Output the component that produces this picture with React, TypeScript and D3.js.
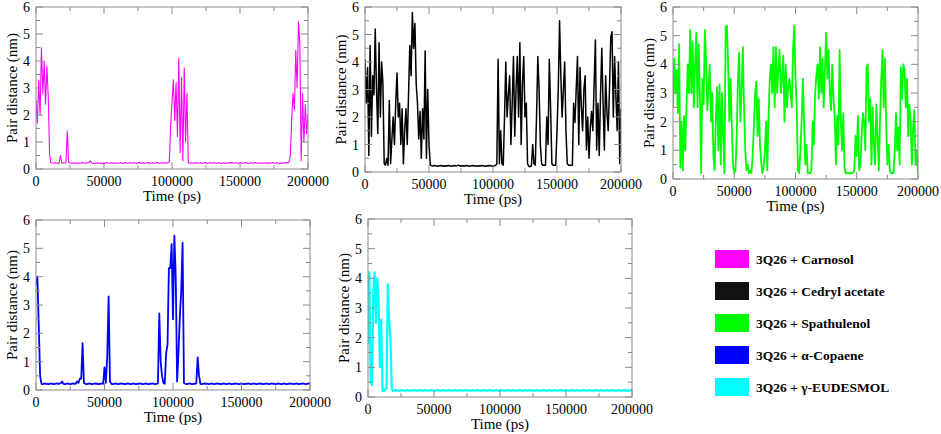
import * as d3 from 'd3'

// sampling interval of every trajectory below (ps)
const TIME_STEP_PS = 1000
const timeDomain = [0, 200000]
const distDomain = [0, 6]
const xTickValues = [0, 50000, 100000, 150000, 200000]
const xMinorValues = [25000, 75000, 125000, 175000]
const yTickValues = [0, 1, 2, 3, 4, 5, 6]
const yMinorValues = [0.5, 1.5, 2.5, 3.5, 4.5, 5.5]

// pair distance (nm), one value per 1000 ps, 0..200000 ps
const carnosol = [
  2.5, 1.7, 3.3, 2.0, 4.5, 2.8, 4.0, 2.4, 3.8, 2.7,
  0.5, 0.23, 0.22, 0.21, 0.23, 0.22, 0.2, 0.22, 0.5, 0.22,
  0.23, 0.22, 0.24, 1.4, 0.25, 0.22, 0.21, 0.23, 0.22, 0.2,
  0.22, 0.23, 0.21, 0.22, 0.24, 0.22, 0.21, 0.23, 0.22, 0.24,
  0.3, 0.22, 0.21, 0.2, 0.22, 0.23, 0.21, 0.22, 0.2, 0.21,
  0.19, 0.22, 0.24, 0.22, 0.21, 0.23, 0.22, 0.2, 0.22, 0.23,
  0.21, 0.22, 0.24, 0.22, 0.2, 0.22, 0.23, 0.21, 0.22, 0.24,
  0.22, 0.21, 0.23, 0.22, 0.2, 0.22, 0.25, 0.21, 0.22, 0.23,
  0.21, 0.22, 0.24, 0.22, 0.2, 0.22, 0.23, 0.21, 0.22, 0.25,
  0.22, 0.21, 0.23, 0.22, 0.24, 0.22, 0.21, 0.23, 0.25, 1.6,
  2.5, 3.3, 1.8, 3.2, 1.2, 4.1, 0.6, 3.4, 0.3, 3.75,
  1.0, 2.8, 0.22, 0.21, 0.23, 0.22, 0.2, 0.22, 0.24, 0.21,
  0.22, 0.23, 0.21, 0.22, 0.24, 0.22, 0.2, 0.22, 0.23, 0.21,
  0.22, 0.24, 0.22, 0.21, 0.23, 0.22, 0.2, 0.22, 0.23, 0.21,
  0.22, 0.21, 0.23, 0.22, 0.24, 0.22, 0.21, 0.23, 0.22, 0.2,
  0.22, 0.23, 0.21, 0.22, 0.24, 0.22, 0.2, 0.22, 0.23, 0.21,
  0.22, 0.24, 0.22, 0.21, 0.23, 0.22, 0.2, 0.22, 0.23, 0.21,
  0.22, 0.21, 0.23, 0.22, 0.24, 0.22, 0.21, 0.23, 0.22, 0.2,
  0.22, 0.21, 0.23, 0.22, 0.24, 0.22, 0.25, 0.5, 1.8, 2.8,
  2.2, 4.4, 3.0, 5.45, 4.6, 0.3, 2.8, 1.0, 2.4, 1.3,
  2.0,
]

const cedrylAcetate = [
  4.1, 2.5, 3.8, 0.6, 4.6, 1.3, 3.5, 2.8, 5.2, 3.0,
  1.4, 4.7, 2.0, 4.0, 3.2, 0.3, 0.25, 0.5, 0.25, 2.6,
  0.3, 1.2, 2.0, 1.0, 2.5, 3.6, 2.0, 2.5, 1.0, 2.3,
  0.3, 1.5, 2.3, 1.0, 2.8, 4.6, 3.5, 5.8, 4.5, 5.4,
  3.2, 2.5, 1.2, 2.2, 0.5, 2.3, 1.2, 4.4, 0.5, 3.0,
  1.0, 0.25, 0.23, 0.22, 0.24, 0.23, 0.22, 0.21, 0.23, 0.24,
  0.22, 0.23, 0.21, 0.23, 0.22, 0.24, 0.23, 0.22, 0.21, 0.23,
  0.24, 0.22, 0.23, 0.25, 0.22, 0.23, 0.21, 0.23, 0.22, 0.24,
  0.23, 0.22, 0.21, 0.23, 0.24, 0.22, 0.23, 0.22, 0.21, 0.23,
  0.22, 0.24, 0.23, 0.22, 0.21, 0.23, 0.22, 0.24, 0.23, 0.22,
  0.21, 0.23, 0.24, 0.3, 4.1, 0.3, 1.5, 0.3, 0.25, 2.0,
  4.0, 2.0, 2.8, 3.5, 1.0, 2.5, 4.2, 1.3, 3.0, 4.2,
  2.0, 4.7, 1.0, 3.2, 4.2, 2.0, 2.5, 0.3, 0.2, 0.2,
  0.22, 1.0, 0.3, 0.25, 2.0, 4.2, 3.0, 1.0, 0.3, 0.25,
  0.25, 0.25, 2.0, 1.0, 4.1, 2.3, 0.3, 0.25, 0.25, 0.25,
  1.5, 3.0, 5.5, 3.5, 2.0, 3.0, 4.0, 1.5, 0.3, 0.25,
  0.25, 0.25, 0.25, 2.5, 1.8, 3.0, 4.2, 1.0, 3.8, 2.4,
  1.5, 3.0, 3.5, 0.8, 2.0, 0.5, 1.6, 2.2, 1.5, 3.2,
  4.8, 0.8, 2.5, 0.6, 2.8, 4.5, 2.5, 0.8, 3.5, 2.2,
  1.5, 3.0, 4.9, 5.1, 2.0, 4.2, 2.8, 1.5, 4.0, 0.3,
  2.3,
]

const spathulenol = [
  2.5, 4.2, 3.0, 3.8, 2.3, 4.7, 0.4, 2.0, 0.3, 2.2,
  1.0, 2.5, 4.0, 3.0, 5.2, 3.0, 4.8, 2.5, 4.0, 5.1,
  2.5, 4.7, 2.8, 0.2, 3.5, 2.6, 5.2, 4.2, 2.4, 3.2,
  4.0, 2.0, 3.0, 0.8, 0.3, 2.2, 3.2, 1.0, 3.3, 0.5,
  3.0, 1.5, 0.2, 5.3, 5.35, 4.0, 2.0, 3.5, 1.8, 0.5,
  0.2, 0.3, 1.5, 3.5, 4.4, 2.0, 3.0, 4.6, 2.5, 1.0,
  0.3, 0.5, 0.2, 0.3, 0.2, 0.8, 1.8, 3.0, 3.4, 1.5,
  2.8, 1.2, 0.6, 0.2, 0.4, 1.0, 2.0, 0.3, 2.2, 3.5,
  4.0, 3.0, 4.6, 2.5, 4.6, 3.0, 3.8, 4.5, 3.0, 3.5,
  4.3, 2.0, 4.0, 2.5, 3.2, 3.5, 3.0, 2.5, 4.5, 5.35,
  3.5, 2.5, 0.3, 0.2, 1.0, 2.0, 3.5, 2.0, 0.5, 1.2,
  0.2, 0.22, 0.2, 0.3, 2.0, 1.2, 3.0, 3.6, 4.0, 2.8,
  4.6, 3.0, 4.2, 2.5, 3.8, 5.1, 3.5, 4.5, 3.0, 2.4,
  4.0, 2.8, 2.2, 0.5, 2.2, 1.2, 4.5, 2.0, 1.0, 2.3,
  0.4, 0.2, 0.22, 0.2, 0.2, 0.21, 0.2, 0.22, 0.3, 1.5,
  0.8, 2.2, 0.3, 0.5, 1.5, 2.3, 2.0, 1.0, 3.9, 4.0,
  2.0, 2.8, 0.5, 2.5, 1.2, 0.5, 2.6, 1.5, 0.3, 2.0,
  3.5, 4.5, 2.5, 4.2, 2.0, 0.5, 1.2, 0.3, 0.2, 0.22,
  0.2, 1.0, 2.3, 1.0, 1.8, 0.5, 3.9, 2.8, 4.0, 3.8,
  2.5, 3.5, 1.5, 2.6, 2.0, 0.5, 1.8, 2.4, 0.5, 1.0,
  0.2,
]

const alphaCopaene = [
  3.7, 4.0, 2.3, 0.5, 0.22, 0.21, 0.23, 0.22, 0.22, 0.21,
  0.22, 0.23, 0.22, 0.21, 0.22, 0.23, 0.22, 0.22, 0.24, 0.3,
  0.22, 0.21, 0.22, 0.23, 0.22, 0.21, 0.22, 0.23, 0.22, 0.22,
  0.3, 0.25, 0.4, 0.4, 1.65, 0.25, 0.22, 0.21, 0.22, 0.23,
  0.22, 0.21, 0.22, 0.23, 0.22, 0.22, 0.21, 0.22, 0.23, 0.22,
  0.8, 0.25, 1.2, 3.3, 0.3, 0.22, 0.21, 0.22, 0.23, 0.22,
  0.21, 0.22, 0.23, 0.22, 0.22, 0.21, 0.22, 0.23, 0.22, 0.21,
  0.22, 0.23, 0.22, 0.21, 0.22, 0.22, 0.23, 0.22, 0.21, 0.22,
  0.23, 0.22, 0.21, 0.22, 0.22, 0.23, 0.22, 0.21, 0.22, 0.23,
  2.7, 1.0, 0.5, 0.25, 0.22, 1.3, 1.6, 4.3, 4.3, 5.15,
  2.5, 5.45, 4.0, 0.3, 1.3, 2.6, 3.5, 5.2, 0.25, 0.22,
  0.21, 0.22, 0.23, 0.22, 0.21, 0.22, 0.22, 0.23, 1.15, 0.5,
  0.22, 0.21, 0.22, 0.23, 0.22, 0.22, 0.21, 0.22, 0.23, 0.22,
  0.21, 0.22, 0.23, 0.22, 0.22, 0.21, 0.22, 0.23, 0.22, 0.21,
  0.22, 0.23, 0.22, 0.21, 0.22, 0.22, 0.23, 0.22, 0.21, 0.22,
  0.23, 0.22, 0.21, 0.22, 0.22, 0.23, 0.22, 0.21, 0.22, 0.23,
  0.22, 0.21, 0.22, 0.23, 0.22, 0.22, 0.21, 0.22, 0.23, 0.22,
  0.21, 0.22, 0.23, 0.22, 0.22, 0.21, 0.22, 0.23, 0.22, 0.21,
  0.22, 0.23, 0.22, 0.21, 0.22, 0.22, 0.23, 0.22, 0.21, 0.22,
  0.23, 0.22, 0.21, 0.22, 0.22, 0.23, 0.22, 0.21, 0.22, 0.23,
  0.22,
]

const gammaEudesmol = [
  1.8, 4.2, 0.5, 0.4, 3.5, 4.2, 2.5, 4.0, 3.3, 1.0,
  2.6, 0.2, 0.2, 0.25, 0.3, 3.8, 2.6, 2.0, 0.3, 0.2,
  0.22, 0.23, 0.22, 0.21, 0.22, 0.23, 0.22, 0.22, 0.21, 0.22,
  0.23, 0.22, 0.21, 0.22, 0.22, 0.23, 0.22, 0.21, 0.22, 0.23,
  0.22, 0.21, 0.22, 0.23, 0.22, 0.22, 0.21, 0.22, 0.23, 0.22,
  0.21, 0.22, 0.23, 0.22, 0.22, 0.21, 0.22, 0.23, 0.22, 0.21,
  0.22, 0.23, 0.22, 0.21, 0.22, 0.22, 0.23, 0.22, 0.21, 0.22,
  0.23, 0.22, 0.21, 0.22, 0.22, 0.23, 0.22, 0.21, 0.22, 0.23,
  0.22, 0.21, 0.22, 0.23, 0.22, 0.22, 0.21, 0.22, 0.23, 0.22,
  0.21, 0.22, 0.23, 0.22, 0.22, 0.21, 0.22, 0.23, 0.22, 0.21,
  0.22, 0.23, 0.22, 0.21, 0.22, 0.22, 0.23, 0.22, 0.21, 0.22,
  0.23, 0.22, 0.21, 0.22, 0.22, 0.23, 0.22, 0.21, 0.22, 0.23,
  0.22, 0.21, 0.22, 0.23, 0.22, 0.22, 0.21, 0.22, 0.23, 0.22,
  0.21, 0.22, 0.23, 0.22, 0.22, 0.21, 0.22, 0.23, 0.22, 0.21,
  0.22, 0.23, 0.22, 0.21, 0.22, 0.22, 0.23, 0.22, 0.21, 0.22,
  0.23, 0.22, 0.21, 0.22, 0.22, 0.23, 0.22, 0.21, 0.22, 0.23,
  0.22, 0.21, 0.22, 0.23, 0.22, 0.22, 0.21, 0.22, 0.23, 0.22,
  0.21, 0.22, 0.23, 0.22, 0.22, 0.21, 0.22, 0.23, 0.22, 0.21,
  0.22, 0.23, 0.22, 0.21, 0.22, 0.22, 0.23, 0.22, 0.21, 0.22,
  0.23, 0.22, 0.21, 0.22, 0.22, 0.23, 0.22, 0.21, 0.22, 0.23,
  0.22,
]

const seriesNames = [
  '3Q26 + Carnosol',
  '3Q26 + Cedryl acetate',
  '3Q26 + Spathulenol',
  '3Q26 + α-Copaene',
  '3Q26 + γ-EUDESMOL',
]
const seriesValues = [carnosol, cedrylAcetate, spathulenol, alphaCopaene, gammaEudesmol]
const seriesColors = ['#ff00ff', '#000000', '#00ff00', '#0000ff', '#00ffff']

// plot boxes of the five panels, in page pixels
const panelBoxes = [
  { left: 36, right: 308, top: 7, bottom: 169, line: 1.1 },
  { left: 365, right: 621, top: 7, bottom: 172, line: 1.5 },
  { left: 673, right: 918, top: 7, bottom: 179, line: 1.8 },
  { left: 36, right: 310, top: 220, bottom: 390, line: 1.8 },
  { left: 368, right: 632, top: 219, bottom: 397, line: 2.2 },
]

const FONT = 'Liberation Serif, DejaVu Serif, Times New Roman, serif'
const FRAME = '#8a8a8a'
const MAJOR = 7
const MINOR = 4

interface PanelProps {
  values: number[]
  color: string
  box: { left: number; right: number; top: number; bottom: number; line: number }
  idx: number
}

const textStyle = { fontFamily: FONT }

function Panel({ values, color, box, idx }: PanelProps) {
  const { left, right, top, bottom } = box
  const x = d3.scaleLinear().domain(timeDomain).range([left, right])
  const y = d3.scaleLinear().domain(distDomain).range([bottom, top])

  const line = d3.line<number>()
    .x((_, i) => x(i * TIME_STEP_PS))
    .y((d) => y(d))

  const clipId = `clip-${idx}`

  return (
    <g>
      <defs>
        <clipPath id={clipId}>
          <rect x={left} y={top} width={right - left} height={bottom - top} />
        </clipPath>
      </defs>
      <path
        d={line(values) || ''}
        fill="none"
        stroke={color}
        strokeWidth={box.line}
        strokeLinejoin="round"
        clipPath={`url(#${clipId})`}
      />
      <rect x={left} y={top} width={right - left} height={bottom - top}
        fill="none" stroke={FRAME} strokeWidth={1} />

      {/* ticks, inside on all four sides */}
      {xTickValues.map((t) => (
        <g key={`xt${t}`} stroke={FRAME} strokeWidth={1}>
          <line x1={x(t)} x2={x(t)} y1={bottom} y2={bottom - MAJOR} />
          <line x1={x(t)} x2={x(t)} y1={top} y2={top + MAJOR} />
        </g>
      ))}
      {xMinorValues.map((t) => (
        <g key={`xm${t}`} stroke={FRAME} strokeWidth={1}>
          <line x1={x(t)} x2={x(t)} y1={bottom} y2={bottom - MINOR} />
          <line x1={x(t)} x2={x(t)} y1={top} y2={top + MINOR} />
        </g>
      ))}
      {yTickValues.map((v) => (
        <g key={`yt${v}`} stroke={FRAME} strokeWidth={1}>
          <line x1={left} x2={left + MAJOR} y1={y(v)} y2={y(v)} />
          <line x1={right} x2={right - MAJOR} y1={y(v)} y2={y(v)} />
        </g>
      ))}
      {yMinorValues.map((v) => (
        <g key={`ym${v}`} stroke={FRAME} strokeWidth={1}>
          <line x1={left} x2={left + MINOR} y1={y(v)} y2={y(v)} />
          <line x1={right} x2={right - MINOR} y1={y(v)} y2={y(v)} />
        </g>
      ))}

      {xTickValues.map((t) => (
        <text key={`xl${t}`} x={x(t)} y={bottom + 17} textAnchor="middle"
          style={textStyle} fontSize={14} fill="#000">{t}</text>
      ))}
      {yTickValues.map((v) => (
        <text key={`yl${v}`} x={left - 6} y={y(v) + 5} textAnchor="end"
          style={textStyle} fontSize={14} fill="#000">{v}</text>
      ))}

      <text x={(left + right) / 2} y={bottom + 32} textAnchor="middle"
        style={textStyle} fontSize={15} fill="#000">Time (ps)</text>
      <text transform={`translate(${left - 19}, ${(top + bottom) / 2}) rotate(-90)`}
        textAnchor="middle" style={textStyle} fontSize={15} fill="#000">Pair distance (nm)</text>
    </g>
  )
}

export default function App() {
  const legendY = d3.scalePoint<string>().domain(seriesNames).range([259, 387])

  return (
    <svg width={941} height={434} style={{ position: 'absolute', left: 0, top: 0, background: '#fff' }}>
      {seriesValues.map((vals, i) => (
        <Panel key={i} idx={i} values={vals} color={seriesColors[i]} box={panelBoxes[i]} />
      ))}

      {seriesNames.map((name, i) => (
        <g key={name}>
          <rect x={715} y={(legendY(name) || 0) - 9} width={34} height={18}
            fill={seriesColors[i] === '#000000' ? '#111' : seriesColors[i]} />
          <text x={756} y={(legendY(name) || 0) + 5} style={textStyle} fontWeight="bold"
            fontSize={13.5} fill="#000">{name}</text>
        </g>
      ))}
    </svg>
  )
}
